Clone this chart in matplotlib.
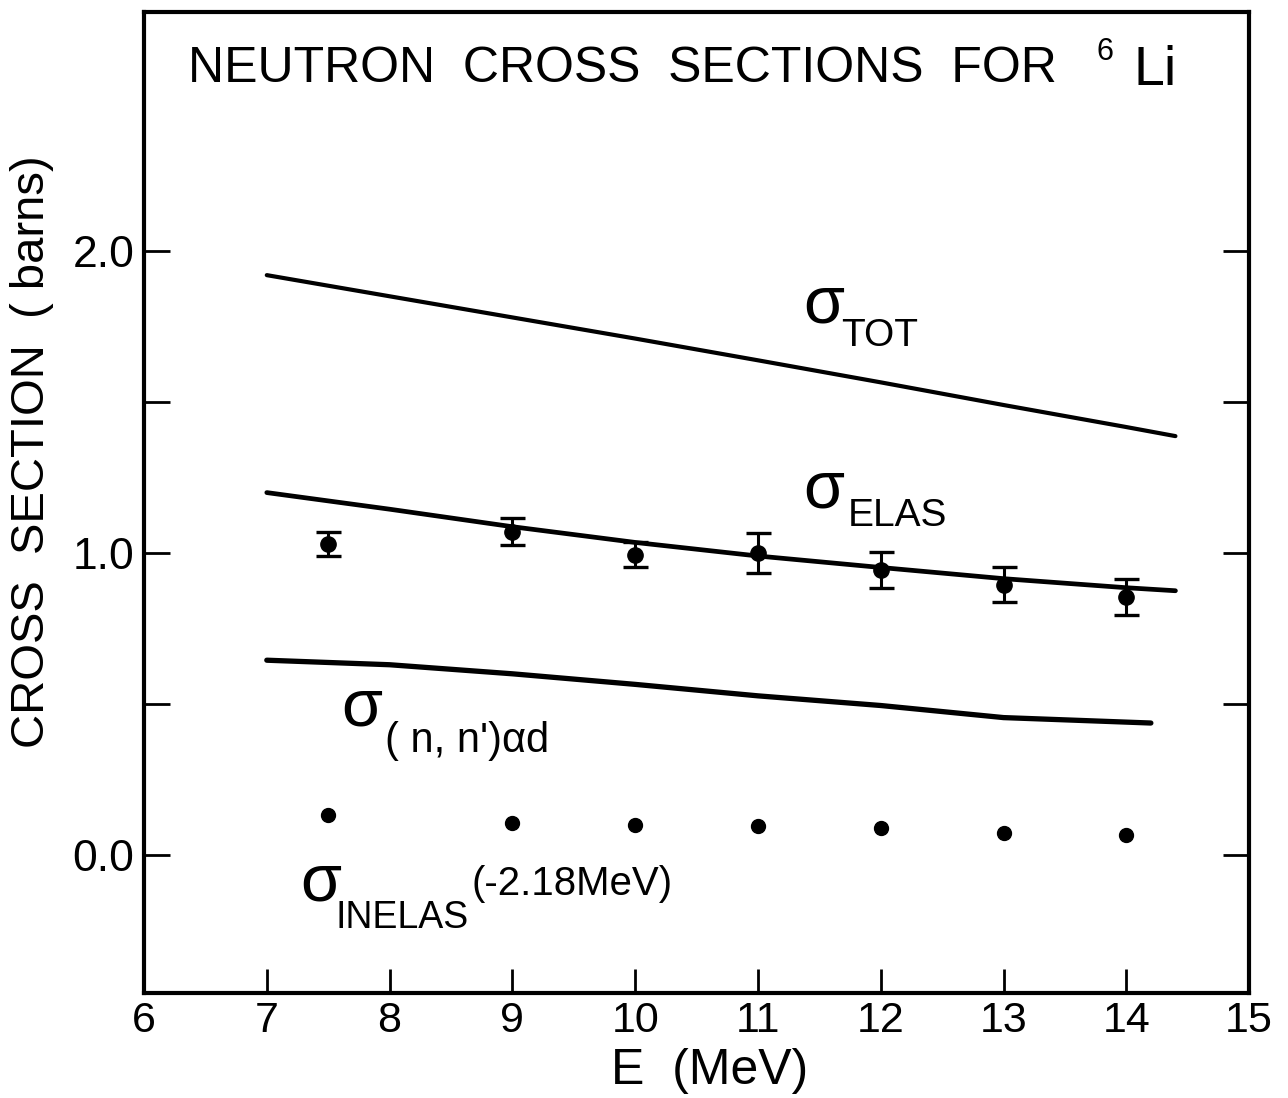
import matplotlib
matplotlib.use("Agg")
import matplotlib.pyplot as plt
import numpy as np

plt.rcParams['font.family'] = ['Liberation Sans', 'DejaVu Sans']

# Smooth curves (energy in MeV, cross section in barns)
e_tot = [7.0, 8.0, 9.0, 10.0, 11.0, 12.0, 13.0, 14.0, 14.4]
sig_tot = [1.92, 1.85, 1.78, 1.71, 1.638, 1.565, 1.49, 1.417, 1.387]

e_elas_curve = [7.0, 8.0, 9.0, 10.0, 11.0, 12.0, 13.0, 14.0, 14.4]
sig_elas_curve = [1.20, 1.145, 1.087, 1.035, 0.99, 0.952, 0.915, 0.885, 0.875]

e_nnad = [7.0, 8.0, 9.0, 10.0, 11.0, 12.0, 13.0, 14.0, 14.2]
sig_nnad = [0.645, 0.63, 0.60, 0.565, 0.527, 0.495, 0.455, 0.44, 0.437]

# Measured elastic cross sections with uncertainties
e_meas = [7.5, 9.0, 10.0, 11.0, 12.0, 13.0, 14.0]
sig_elas_meas = [1.03, 1.07, 0.995, 1.0, 0.943, 0.895, 0.855]
sig_elas_err = [0.04, 0.045, 0.04, 0.065, 0.06, 0.058, 0.06]

# Inelastic (-2.18 MeV level)
sig_inelas = [0.133, 0.107, 0.099, 0.095, 0.088, 0.072, 0.066]

x_ticks = [6, 7, 8, 9, 10, 11, 12, 13, 14, 15]
x_ticklabels = ['6', '7', '8', '9', '10', '11', '12', '13', '14', '15']
y_ticks = [0.0, 0.5, 1.0, 1.5, 2.0]
y_ticklabels = ['0.0', '', '1.0', '', '2.0']

fig = plt.figure(figsize=(12.88, 10.98), dpi=100)
ax = fig.add_axes([0.1118, 0.0956, 0.858, 0.8934])
ax.set_xlim(6, 15)
ax.set_ylim(-0.457, 2.791)

ink = 'black'
ax.plot(e_tot, sig_tot, color=ink, lw=3.0, solid_capstyle='round')
ax.plot(e_elas_curve, sig_elas_curve, color=ink, lw=3.4, solid_capstyle='round')
ax.plot(e_nnad, sig_nnad, color=ink, lw=3.8, solid_capstyle='round')

ax.errorbar(e_meas, sig_elas_meas, yerr=sig_elas_err, fmt='o', color=ink,
            ms=11, elinewidth=2.2, capsize=9, capthick=2.4)
ax.plot(e_meas, sig_inelas, 'o', color=ink, ms=10)

for side in ['left', 'right', 'top', 'bottom']:
    ax.spines[side].set_linewidth(3.0)

ax.set_xticks(x_ticks)
ax.set_xticklabels(x_ticklabels)
ax.set_yticks(y_ticks)
ax.set_yticklabels(y_ticklabels)
ax.tick_params(axis='x', direction='in', length=17, width=2.0, pad=6,
               labelsize=31, top=False)
ax.tick_params(axis='y', direction='in', length=19, width=2.0, pad=7,
               labelsize=32, right=True)

# Title inside the frame
ax.text(0.040, 0.9287, 'NEUTRON  CROSS  SECTIONS  FOR', transform=ax.transAxes,
        fontsize=36, ha='left', va='baseline')
ax.text(0.862, 0.951, '6', transform=ax.transAxes, fontsize=22,
        ha='left', va='baseline')
ax.text(0.895, 0.9256, 'Li', transform=ax.transAxes, fontsize=40,
        ha='left', va='baseline')

# Curve labels
def sigma_label(xs, ys, xsub, ysub, sub, subsize=28, sigsize=48):
    ax.text(xs, ys, 'σ', fontsize=sigsize, ha='left', va='baseline')
    ax.text(xsub, ysub, sub, fontsize=subsize, ha='left', va='baseline')

sigma_label(11.37, 1.762, 11.68, 1.686, 'TOT')
sigma_label(11.37, 1.150, 11.73, 1.091, 'ELAS')
sigma_label(7.61, 0.430, 7.96, 0.340, "( n, n')αd", subsize=30)
sigma_label(7.27, -0.149, 7.56, -0.241, 'INELAS', subsize=27)
ax.text(8.67, -0.132, '(-2.18MeV)', fontsize=29, ha='left', va='baseline')

fig.text(710 / 1288, 1 - 1071 / 1098, 'E  (MeV)', fontsize=36,
         ha='center', va='center')
fig.text(32 / 1288, 1 - 452 / 1098, 'CROSS  SECTION  ( barns)', fontsize=34,
         rotation=90, ha='center', va='center')

fig.savefig('out.png', dpi=100)
